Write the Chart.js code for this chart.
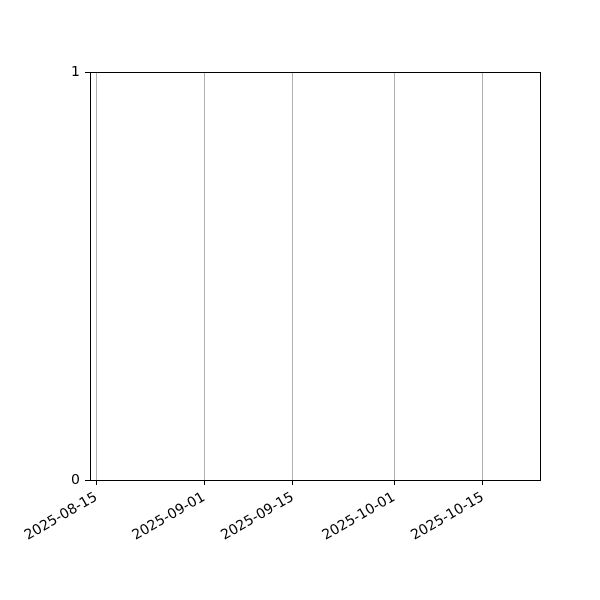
<!DOCTYPE html>
<html>
<head>
<meta charset="utf-8">
<script src="https://cdn.jsdelivr.net/npm/chart.js@4.4.1/dist/chart.umd.min.js"></script>
<style>
  body { margin: 0; background: #fff; }
  canvas { display: block; }
</style>
</head>
<body>
<canvas id="emptyChart" width="600" height="600"></canvas>
<script>
// axis range and tick dates (no series plotted)
const xRange = ["2025-08-14", "2025-10-24"];
const tickDates = ["2025-08-15", "2025-09-01", "2025-09-15", "2025-10-01", "2025-10-15"];
const yTicks = [0, 1];
const seriesPoints = [];

const DAY = 86400000;
const toDay = s => Date.parse(s + "T00:00:00Z") / DAY;
const fromDay = d => new Date(d * DAY).toISOString().slice(0, 10);

// full box around the plot area like matplotlib spines
const frame = {
  id: "frame",
  afterDraw(chart) {
    const { ctx, chartArea: a } = chart;
    ctx.save();
    ctx.strokeStyle = "#000";
    ctx.lineWidth = 1;
    ctx.strokeRect(a.left + 0.5, a.top + 0.5, a.right - a.left, a.bottom - a.top);
    ctx.restore();
  }
};

const ctx = document.getElementById("emptyChart").getContext("2d");
new Chart(ctx, {
  type: "scatter",
  data: { datasets: [{ data: seriesPoints }] },
  options: {
    responsive: false,
    animation: false,
    layout: { padding: { top: 72, right: 60, left: 0, bottom: 0 } },
    plugins: { legend: { display: false }, tooltip: { enabled: false } },
    scales: {
      x: {
        type: "linear",
        min: toDay(xRange[0]),
        max: toDay(xRange[1]),
        border: { display: false },
        grid: { color: "#b0b0b0", lineWidth: 1, tickColor: "#000", tickLength: 5 },
        afterBuildTicks: scale => {
          scale.ticks = tickDates.map(d => ({ value: toDay(d) }));
        },
        afterFit: scale => {
          scale.height = 120;
          scale.paddingLeft = 0;
          scale.paddingRight = 0;
        },
        ticks: {
          autoSkip: false,
          minRotation: 30,
          maxRotation: 30,
          padding: 4,
          color: "#000",
          font: { family: "DejaVu Sans", size: 14 },
          callback: v => fromDay(v)
        }
      },
      y: {
        min: yTicks[0],
        max: yTicks[yTicks.length - 1],
        border: { display: false },
        grid: { drawOnChartArea: false, tickColor: "#000", tickLength: 5 },
        afterBuildTicks: scale => {
          scale.ticks = yTicks.map(v => ({ value: v }));
        },
        afterFit: scale => { scale.width = 90; },
        ticks: {
          padding: 5,
          color: "#000",
          font: { family: "DejaVu Sans", size: 14 },
          callback: v => String(v)
        }
      }
    }
  },
  plugins: [frame]
});
</script>
</body>
</html>
